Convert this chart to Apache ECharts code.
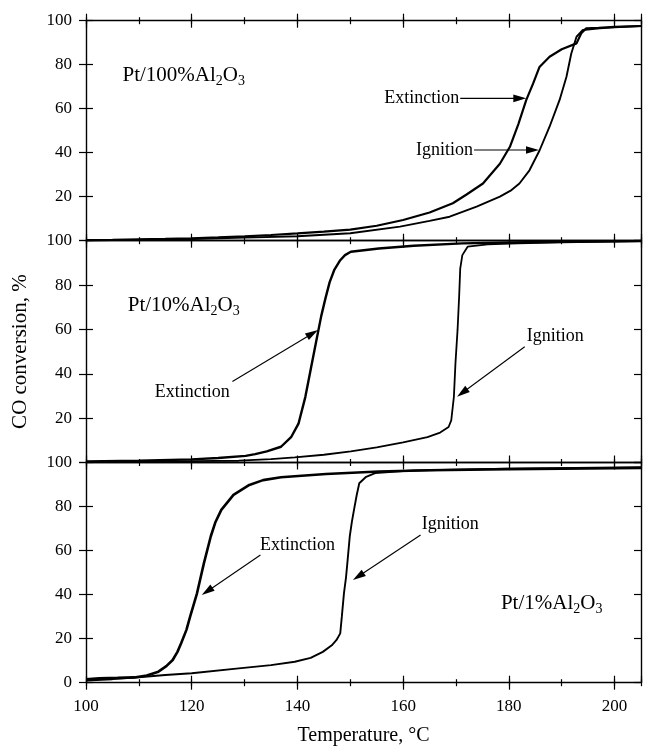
<!DOCTYPE html>
<html><head><meta charset="utf-8">
<script src="https://cdn.jsdelivr.net/npm/echarts@6/dist/echarts.min.js"></script>
<style>html,body{margin:0;padding:0;background:#fff}#c{width:647px;height:747px}</style>
</head><body><div id="c"></div>
<script>
// ---- data (Temperature °C, CO conversion %) ----
const ext100 = [[100,0.3],[105,0.4],[110,0.6],[115,0.8],[120,1.1],[125,1.5],[130,2.0],[135,2.6],[140,3.3],[145,4.1],[150,5.0],[155,6.8],[160,9.4],[165,12.8],[169.4,17],[172,21],[175.1,26],[178.3,35],[180.2,42.7],[181.8,53],[183.3,64],[184.6,71.5],[185.8,79],[187.7,83.6],[190,87],[192.8,89.7],[193.7,94.3],[194.6,96.5],[197,96.8],[200,97.2],[205,97.6]];
const ign100 = [[100,0.2],[110,0.4],[120,0.8],[130,1.4],[140,2.0],[150,3.4],[159.4,6.4],[165,9],[168.8,10.9],[173.9,15.5],[178.3,20],[180.5,23],[182,26],[183.9,32],[185.8,41],[187.7,51.8],[189.6,64],[190.9,74.5],[191.8,85],[192.8,92.7],[194,95.8],[197.2,96.5],[200,97],[205,97.6]];
const ext10 = [[100,0.5],[110,0.8],[120,1.4],[125,2.0],[130.2,3.0],[132,3.8],[134.2,5],[136.9,7.1],[138.8,11.4],[140.2,17.5],[141.5,29.6],[142.5,41.8],[143.5,54],[144.5,66],[145.3,74],[146.1,81.3],[147,87],[148.1,91.2],[149,93.5],[150.1,95],[155.4,96.5],[162,97.7],[171.2,98.8],[180,99.2],[190,99.5],[205,99.8]];
const ign10 = [[100,0.3],[110,0.4],[120,0.6],[128.9,0.8],[135,1.5],[139.5,2.3],[145,3.5],[150.1,5],[155,6.8],[160,9.1],[164.6,11.4],[167,13.5],[168.6,16],[169.1,19],[169.6,29.6],[169.9,44.8],[170.3,60],[170.6,75.2],[170.8,87.4],[171.2,93.5],[172.2,97.3],[176,98.3],[181.7,98.8],[190,99.3],[205,99.8]];
const ext1 = [[100,1.5],[102.5,2],[106,2.2],[109.1,2.4],[111.5,3.3],[113.7,5],[115.2,7.5],[116.4,10.3],[117.3,14],[118,17.9],[119,24],[119.7,30],[121,40.6],[122.3,54.2],[123.6,66.4],[124.5,73],[125.6,78.5],[127.9,85.3],[130.9,89.8],[133.5,92],[136.9,93.3],[145.4,94.8],[155.4,95.9],[165,96.5],[180,97],[205,97.5]];
const ign1 = [[100,1.0],[105,1.6],[110,2.5],[115,3.5],[120,4.3],[128.9,6.5],[135,8],[139.5,9.5],[142.5,11.3],[144.8,14],[146.5,17],[147.4,19.4],[148.1,22.4],[148.4,30],[148.8,40.6],[149.2,48],[149.5,55.8],[149.9,66.4],[150.3,73],[150.7,78.5],[151.2,85],[151.7,90.6],[153,93.5],[154.7,95.2],[162,96.4],[180,97.2],[205,97.9]];

const xRange = [100, 205];
const xMajor = 20, xMinor = 10;
const yRange = [0, 100];
const yStep = 20;
const xTitle = 'Temperature, °C';
const yTitle = 'CO conversion, %';
const panelNames = [['Pt/100%Al','2','O','3'],['Pt/10%Al','2','O','3'],['Pt/1%Al','2','O','3']];
// annotations: [panel, text, textAnchor(T,v), align, arrowStart(T,v), arrowTip(T,v)]
const annotations = [
  [0,'Extinction',[170.6,64.7],'right',[170.8,64.7],[183.3,64.7]],
  [0,'Ignition',[173.2,41.2],'right',[173.4,41.2],[185.7,41.2]],
  [1,'Extinction',[113,31.6],'left',[127.7,36.5],[143.9,59.7]],
  [1,'Ignition',[183.4,56.7],'left',[183.0,52.2],[170.2,29.7]],
  [2,'Extinction',[132.9,62.5],'left',[133.0,58],[121.9,39.8]],
  [2,'Ignition',[163.5,72.1],'left',[163.3,67.1],[150.5,46.6]]
];
const panelLabelPos = [[106.9,75.0],[107.9,71.0],[178.5,36.0]];

const FONT = 'Liberation Serif';
const grids = [
  {left:86, top:20.7, width:555, height:220},
  {left:86, top:240.7, width:555, height:221.8},
  {left:86, top:462.5, width:555, height:220.2}
];
const lineStyle = {color:'#000', width:1.4};

function xAx(g, pos, inside, major, showLine, label, extra) {
  return Object.assign({
    type:'value', gridIndex:g, position:pos, min:xRange[0], max:xRange[1],
    interval: major ? xMajor : xMinor,
    axisLine:{show:showLine, onZero:false, lineStyle},
    axisTick:{show:true, inside, length: major ? 7 : 3.5, lineStyle:{color:'#000', width:1.2}},
    axisLabel:{show:label, fontFamily:FONT, fontSize:17, color:'#000', margin:15, showMaxLabel:false},
    splitLine:{show:false}
  }, extra || {});
}
function yAx(g, pos, inside, showLine, label, extra) {
  return Object.assign({
    type:'value', gridIndex:g, position:pos, min:yRange[0], max:yRange[1], interval:yStep,
    axisLine:{show:showLine, onZero:false, lineStyle},
    axisTick:{show:true, inside, length:7, lineStyle:{color:'#000', width:1.2}},
    axisLabel:{show:label, fontFamily:FONT, fontSize:17, color:'#000', margin:14, showMinLabel: g === 2},
    splitLine:{show:false}
  }, extra || {});
}

const xAxes = [], yAxes = [], mainX = [], mainY = [];
for (let g = 0; g < 3; g++) {
  mainX.push(xAxes.length);
  xAxes.push(xAx(g,'bottom',true,true,true,false));
  xAxes.push(xAx(g,'bottom',true,false,false,false));
  xAxes.push(xAx(g,'top',true,true,true,false));
  xAxes.push(xAx(g,'top',true,false,false,false));
  if (g === 0) {
    xAxes.push(xAx(g,'top',false,true,false,false));
    xAxes.push(xAx(g,'top',false,false,false,false));
  }
  if (g === 2) {
    xAxes.push(xAx(g,'bottom',false,true,false,true,{
      name:xTitle, nameLocation:'middle', nameGap:43,
      nameTextStyle:{fontFamily:FONT, fontSize:20, color:'#000'}}));
    xAxes.push(xAx(g,'bottom',false,false,false,false));
  }
  mainY.push(yAxes.length);
  yAxes.push(yAx(g,'left',true,true,true, g === 1 ? {
    name:yTitle, nameLocation:'middle', nameGap:55,
    nameTextStyle:{fontFamily:FONT, fontSize:21, color:'#000'}} : null));
  yAxes.push(yAx(g,'left',false,false,false));
  yAxes.push(yAx(g,'right',true,true,false));
}

const curves = [[ext100,0,2.2],[ign100,0,1.9],[ext10,1,2.4],[ign10,1,1.8],[ext1,2,2.6],[ign1,2,1.9]];
const series = curves.map(([d,g,w]) => ({
  type:'line', xAxisIndex:mainX[g], yAxisIndex:mainY[g], data:d,
  showSymbol:false, symbol:'none', lineStyle:{color:'#000', width:w}, z:3
}));

const chart = echarts.init(document.getElementById('c'), null, {renderer:'canvas'});
chart.setOption({
  animation:false, backgroundColor:'#fff',
  grid: grids.map(g => Object.assign({outerBoundsMode:'none'}, g)),
  xAxis:xAxes, yAxis:yAxes, series
});

// annotations placed from data coordinates
const seriesOfPanel = [0,2,4];
const px = (g, p) => chart.convertToPixel({seriesIndex: seriesOfPanel[g]}, p);
const graphics = [];
panelNames.forEach((n, g) => {
  const p = px(g, panelLabelPos[g]);
  graphics.push({type:'text', x:p[0], y:p[1], z:10, style:{
    text:'{a|' + n[0] + '}{b|' + n[1] + '}{a|' + n[2] + '}{b|' + n[3] + '}',
    align:'left', verticalAlign:'middle', fill:'#000',
    rich:{a:{fontFamily:FONT, fontSize:21, lineHeight:24, fill:'#000'},
          b:{fontFamily:FONT, fontSize:14, lineHeight:12, padding:[12,0,0,0], fill:'#000'}}
  }});
});
annotations.forEach(([g, txt, tp, al, s, t]) => {
  const P = px(g, tp), S = px(g, s), T = px(g, t);
  graphics.push({type:'text', x:P[0], y:P[1], z:10, style:{text:txt, align:al, verticalAlign:'middle',
    fontFamily:FONT, fontSize:18, fill:'#000'}});
  const dx = T[0]-S[0], dy = T[1]-S[1], L = Math.hypot(dx,dy);
  const ux = dx/L, uy = dy/L, nx = -uy, ny = ux, AL = 13, AW = 3.8;
  graphics.push({type:'line', z:10, shape:{x1:S[0], y1:S[1], x2:T[0]-ux*AL*0.8, y2:T[1]-uy*AL*0.8},
    style:{stroke:'#000', lineWidth:1.1}});
  graphics.push({type:'polygon', z:10, shape:{points:[[T[0],T[1]],
    [T[0]-ux*AL+nx*AW, T[1]-uy*AL+ny*AW],[T[0]-ux*AL-nx*AW, T[1]-uy*AL-ny*AW]]},
    style:{fill:'#000'}});
});
chart.setOption({graphic: graphics});
</script></body></html>
